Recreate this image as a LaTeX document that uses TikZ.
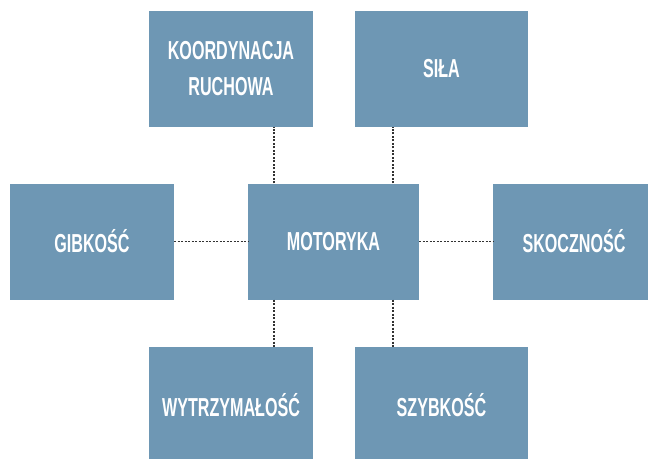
\documentclass[tikz,border=0pt]{standalone}
\usepackage{fontspec}
\newfontfamily\boxfont[FakeStretch=0.62]{Liberation Sans}
\definecolor{boxblue}{RGB}{110,151,180}
\definecolor{dotgray}{RGB}{50,50,50}

\begin{document}
\begin{tikzpicture}[x=1pt,y=-1pt,
                    main node/.style={rectangle,fill=boxblue,text=white,align=center,inner sep=0pt,
                      minimum height=116pt,font=\boxfont\bfseries\fontsize{26}{36}\selectfont},
                    link/.style={draw=dotgray,line width=1.2pt,dash pattern=on 2pt off 1.5pt}]
  \useasboundingbox (0,0) rectangle (648,458);
  \clip (0,0) rectangle (648,458);

  \node[main node,minimum width=171pt] (motoryka) at (333.5,241.5) {MOTORYKA};
  \node[main node,minimum width=164pt] (koordynacja) at (231,69) {KOORDYNACJA\\RUCHOWA};
  \node[main node,minimum width=173pt] (sila) at (441.5,69) {SIŁA};
  \node[main node,minimum width=164pt] (gibkosc) at (92,241.5) {GIBKOŚĆ};
  \node[main node,minimum width=162pt] (skocznosc) at (574,241.5) {SKOCZNOŚĆ};
  \node[main node,minimum width=164pt] (wytrzymalosc) at (231,405) {WYTRZYMAŁOŚĆ};
  \node[main node,minimum width=173pt] (szybkosc) at (441.5,405) {SZYBKOŚĆ};

  % dotted links to the centre
  \path[link]
    ([xshift=-59.5pt]motoryka.north) edge ([xshift=-59.5pt]motoryka.north |- koordynacja.south)
    ([xshift=59.5pt]motoryka.north) edge ([xshift=59.5pt]motoryka.north |- sila.south)
    ([xshift=-59.5pt]motoryka.south) edge ([xshift=-59.5pt]motoryka.south |- wytrzymalosc.north)
    ([xshift=59.5pt]motoryka.south) edge ([xshift=59.5pt]motoryka.south |- szybkosc.north)
    (gibkosc.east) edge (motoryka.west)
    (motoryka.east) edge (skocznosc.west);
\end{tikzpicture}
\end{document}
